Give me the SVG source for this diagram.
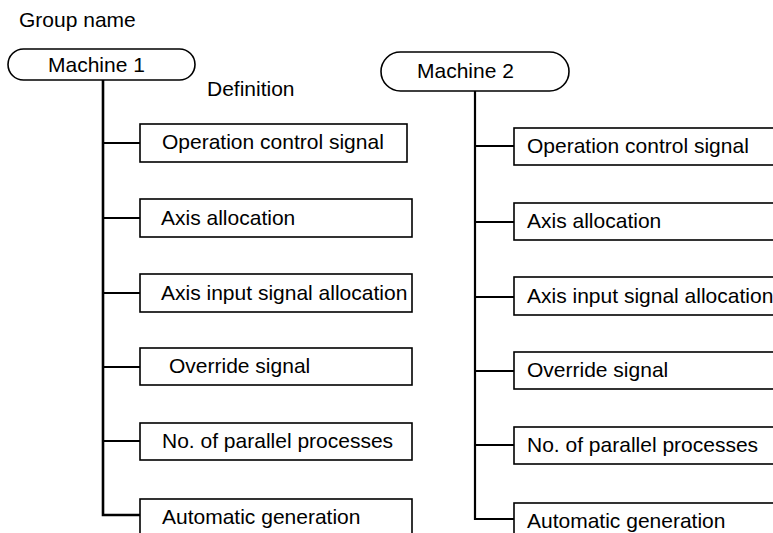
<svg xmlns="http://www.w3.org/2000/svg" width="773" height="533" viewBox="0 0 773 533">
  <style>
    text { font-family: "Liberation Sans", Arial, sans-serif; font-size: 21px; fill: #000; }
    .pill, .box { fill: #fff; stroke: #000; stroke-width: 1.6; }
    .trunk { fill: none; stroke: #000; stroke-width: 2.6; }
    .branch { fill: none; stroke: #000; stroke-width: 1.8; }
  </style>
  <rect width="773" height="533" fill="#fff"/>

  <text x="19" y="27">Group name</text>
  <text x="207" y="96">Definition</text>

  <!-- connectors -->
  <g id="connectors">
    <path class="trunk" d="M103,80 V515 H140"/>
    <path class="branch" d="M103,143 H140 M103,218 H140 M103,293 H140 M103,367 H140 M103,441 H140"/>
    <path class="trunk" d="M475,91 V519 H514" style="stroke-width:2.2"/>
    <path class="branch" d="M475,146 H514 M475,222 H514 M475,297 H514 M475,371 H514 M475,445 H514"/>
  </g>

  <!-- Machine 1 -->
  <g id="machine1">
    <rect class="pill" x="8" y="49" width="187" height="31" rx="15.5"/>
    <text x="48" y="72">Machine 1</text>
  </g>
  <g id="m1-operation">
    <rect class="box" x="140" y="124" width="267" height="38"/>
    <text x="162" y="149">Operation control signal</text>
  </g>
  <g id="m1-axis">
    <rect class="box" x="140" y="199" width="272" height="38"/>
    <text x="161" y="225">Axis allocation</text>
  </g>
  <g id="m1-axis-input">
    <rect class="box" x="140" y="274" width="272" height="38"/>
    <text x="161" y="300">Axis input signal allocation</text>
  </g>
  <g id="m1-override">
    <rect class="box" x="140" y="348" width="272" height="37"/>
    <text x="169" y="373">Override signal</text>
  </g>
  <g id="m1-parallel">
    <rect class="box" x="140" y="423" width="272" height="37"/>
    <text x="162" y="448">No. of parallel processes</text>
  </g>
  <g id="m1-auto">
    <rect class="box" x="140" y="499" width="272" height="50"/>
    <text x="162" y="524">Automatic generation</text>
  </g>

  <!-- Machine 2 -->
  <g id="machine2">
    <rect class="pill" x="381" y="52" width="188" height="39" rx="19.5"/>
    <text x="417" y="78">Machine 2</text>
  </g>
  <g id="m2-operation">
    <rect class="box" x="514" y="128" width="280" height="37"/>
    <text x="527" y="153">Operation control signal</text>
  </g>
  <g id="m2-axis">
    <rect class="box" x="514" y="203" width="280" height="37"/>
    <text x="527" y="228">Axis allocation</text>
  </g>
  <g id="m2-axis-input">
    <rect class="box" x="514" y="277" width="280" height="38"/>
    <text x="527" y="303">Axis input signal allocation</text>
  </g>
  <g id="m2-override">
    <rect class="box" x="514" y="352" width="280" height="37"/>
    <text x="527" y="377">Override signal</text>
  </g>
  <g id="m2-parallel">
    <rect class="box" x="514" y="427" width="280" height="37"/>
    <text x="527" y="452">No. of parallel processes</text>
  </g>
  <g id="m2-auto">
    <rect class="box" x="514" y="503" width="280" height="50"/>
    <text x="527" y="528">Automatic generation</text>
  </g>
</svg>
